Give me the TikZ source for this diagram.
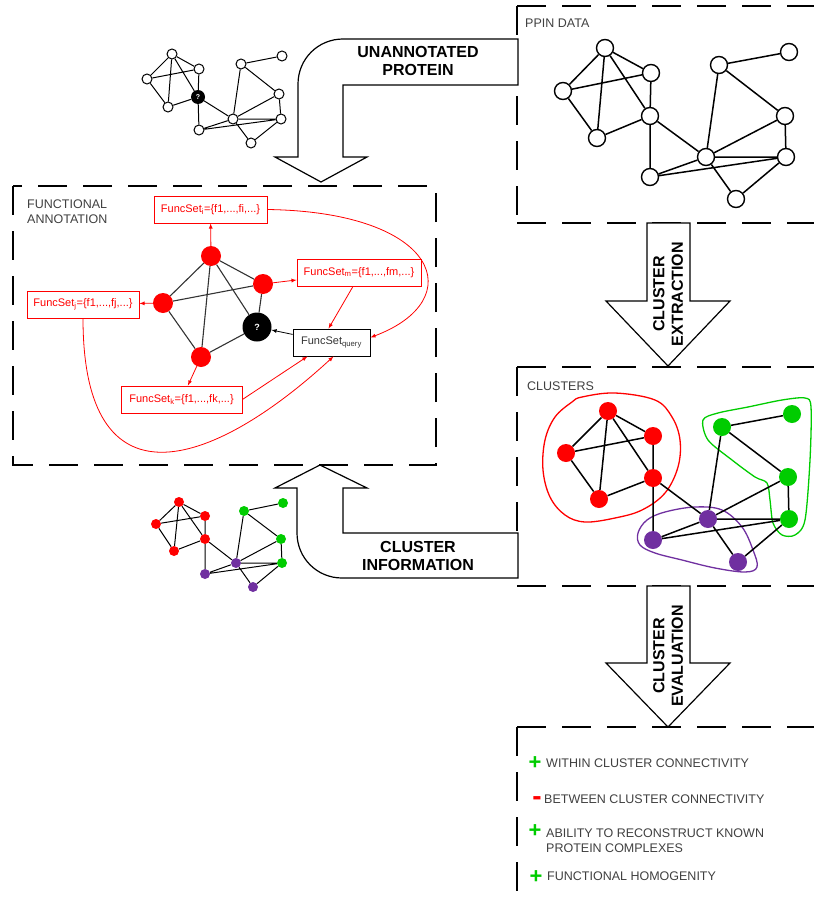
\documentclass[tikz,border=0pt]{standalone}
\usepackage{fontspec}
\setmainfont{Liberation Sans}
\usetikzlibrary{arrows,positioning}

\definecolor{ppired}{RGB}{255,0,0}
\definecolor{ppigreen}{RGB}{0,204,0}
\definecolor{ppipurple}{RGB}{112,48,160}
\definecolor{ppigray}{RGB}{64,64,64}

\tikzset{
  boxedge/.style={line width=1.3pt,dash pattern=on 29pt off 16pt},
  bigarrow/.style={draw,fill=white,line width=1.2pt,line join=miter},
  protein/.style={circle,draw,fill=white,line width=1.4pt,minimum size=17pt,inner sep=0pt},
  smallprotein/.style={circle,draw,fill=white,line width=1pt,minimum size=10pt,inner sep=0pt},
  queryprotein/.style={circle,fill=black,text=white,inner sep=0pt,minimum size=#1},
  member/.style={circle,fill=#1,minimum size=18pt,inner sep=0pt},
  smallmember/.style={circle,fill=#1,minimum size=10pt,inner sep=0pt},
  interaction/.style={line width=1.5pt},
  smallinteraction/.style={line width=1pt},
  annotedge/.style={line width=1.1pt,black!80},
  funcset/.style={draw=ppired,text=ppired,line width=0.8pt,minimum height=27pt,inner sep=0pt,font=\fontsize{11}{13}\selectfont},
  setarrow/.style={-latex,ppired,line width=0.8pt},
  hull/.style={line width=1.3pt},
  boxtitle/.style={text=ppigray,anchor=west,align=left,inner sep=0pt,font=\fontsize{12.5}{15}\selectfont},
  steptitle/.style={align=center,inner sep=0pt,font=\bfseries\fontsize{16}{18.5}\selectfont},
  plusmark/.style={text=ppigreen,inner sep=0pt,font=\bfseries\fontsize{22}{22}\selectfont},
  minusmark/.style={text=ppired,inner sep=0pt,font=\bfseries\fontsize{28}{28}\selectfont}
}

\begin{document}
\begin{tikzpicture}[x=1pt,y=-1pt]
\useasboundingbox (0,0) rectangle (814,899);

% frames
\draw[boxedge] (517,6) -- (814,6) (517,6) -- (517,223) (517,223) -- (814,223);
\draw[boxedge] (13,186) rectangle (436,465);
\draw[boxedge] (517,367) -- (814,367) (517,367) -- (517,586) (517,586) -- (814,586);
\draw[boxedge] (517,727) -- (814,727) (517,727) -- (517,899);

% process arrows
\draw[bigarrow] (518,85) -- (518,39) -- (343,39) .. controls (318,39) and (298,59) .. (298,84)
  -- (298,157) -- (275,157) -- (321,182) -- (367,157) -- (343,157) -- (343,85) -- cycle;
\draw[bigarrow] (647,223) -- (647,301) -- (606,301) -- (668,366) -- (730,301) -- (690,301) -- (690,223) -- cycle;
\draw[bigarrow] (647,586) -- (647,663) -- (606,663) -- (668,727) -- (730,663) -- (690,663) -- (690,586) -- cycle;
\draw[bigarrow] (518,533) -- (343,533) -- (343,488) -- (367,488) -- (320,465) -- (275,488) -- (297,488)
  -- (297,533) .. controls (297,558) and (317,578) .. (342,578) -- (518,578) -- cycle;

\node[steptitle] (unannotated) at (418,61) {UNANNOTATED\\PROTEIN};
\node[steptitle,rotate=90] (extraction) at (668,294) {CLUSTER\\EXTRACTION};
\node[steptitle] (information) at (418,556) {CLUSTER\\INFORMATION};
\node[steptitle,rotate=90] (evaluation) at (668,656) {CLUSTER\\EVALUATION};

\node[boxtitle] (ppintitle) at (525,23) {PPIN DATA};
\node[boxtitle] (fatitle) at (27,212) {FUNCTIONAL\\ANNOTATION};
\node[boxtitle] (clustertitle) at (527,386) {CLUSTERS};

% ppin data
\node[protein] (p1) at (605,48) {};
\node[protein] (p2) at (651,73) {};
\node[protein] (p3) at (563,91) {};
\node[protein] (p4) at (650,116) {};
\node[protein] (p5) at (597,138) {};
\node[protein] (p6) at (650,177) {};
\node[protein] (p7) at (719,65) {};
\node[protein] (p8) at (789,52) {};
\node[protein] (p9) at (785,116) {};
\node[protein] (p10) at (706,157) {};
\node[protein] (p11) at (786,157) {};
\node[protein] (p12) at (736,199) {};
\draw[interaction] (p1) -- (p3) (p1) -- (p2) (p1) -- (p5) (p1) -- (p4) (p3) -- (p2) (p3) -- (p5)
  (p5) -- (p4) (p2) -- (p4) (p4) -- (p6) (p4) -- (p10) (p10) -- (p7) (p7) -- (p8) (p7) -- (p9)
  (p9) -- (p10) (p9) -- (p11) (p10) -- (p11) (p6) -- (p10) (p6) -- (p11) (p10) -- (p12) (p12) -- (p11);

% unannotated protein
\node[smallprotein] (s1) at (172,54) {};
\node[smallprotein] (s2) at (199,69) {};
\node[smallprotein] (s3) at (147,79) {};
\node[queryprotein=14pt,font=\bfseries\fontsize{7}{7}\selectfont] (s4) at (198,97) {?};
\node[smallprotein] (s5) at (168,107) {};
\node[smallprotein] (s6) at (199,130) {};
\node[smallprotein] (s7) at (241,64) {};
\node[smallprotein] (s8) at (282,56) {};
\node[smallprotein] (s9) at (279,94) {};
\node[smallprotein] (s10) at (233,119) {};
\node[smallprotein] (s11) at (281,119) {};
\node[smallprotein] (s12) at (251,143) {};
\draw[smallinteraction] (s1) -- (s3) (s1) -- (s2) (s1) -- (s5) (s1) -- (s4) (s3) -- (s2) (s3) -- (s5)
  (s5) -- (s4) (s2) -- (s4) (s4) -- (s6) (s4) -- (s10) (s10) -- (s7) (s7) -- (s8) (s7) -- (s9)
  (s9) -- (s10) (s9) -- (s11) (s10) -- (s11) (s6) -- (s10) (s6) -- (s11) (s10) -- (s12) (s12) -- (s11);

% clusters
\draw[hull,ppired] plot[smooth cycle,tension=0.6] coordinates {(582,397) (615,393) (655,400) (672,417) (680,440)
  (678,467) (665,493) (642,510) (615,518) (585,522) (565,515) (550,497) (543,470) (545,440) (555,417) (572,402)};
\draw[hull,ppigreen] plot[smooth cycle,tension=0.5] coordinates {(703,420) (718,413) (748,407) (782,400) (805,398)
  (811,407) (810,460) (805,520) (795,535) (782,535) (773,523) (770,500) (767,483) (755,477) (732,460) (708,440)};
\draw[hull,ppipurple] plot[smooth cycle,tension=0.6] coordinates {(638,533) (647,520) (665,512) (695,507) (722,510)
  (742,527) (753,550) (757,567) (745,572) (715,568) (682,560) (655,553) (640,545)};
\node[member=ppired] (c1) at (608,411) {};
\node[member=ppired] (c2) at (653,436) {};
\node[member=ppired] (c3) at (566,453) {};
\node[member=ppired] (c4) at (653,478) {};
\node[member=ppired] (c5) at (599,499) {};
\node[member=ppipurple] (c6) at (653,540) {};
\node[member=ppigreen] (c7) at (722,427) {};
\node[member=ppigreen] (c8) at (792,414) {};
\node[member=ppigreen] (c9) at (788,477) {};
\node[member=ppipurple] (c10) at (708,519) {};
\node[member=ppigreen] (c11) at (789,519) {};
\node[member=ppipurple] (c12) at (738,562) {};
\draw[interaction] (c1) -- (c3) (c1) -- (c2) (c1) -- (c5) (c1) -- (c4) (c3) -- (c2) (c3) -- (c5)
  (c5) -- (c4) (c2) -- (c4) (c4) -- (c6) (c4) -- (c10) (c10) -- (c7) (c7) -- (c8) (c7) -- (c9)
  (c9) -- (c10) (c9) -- (c11) (c10) -- (c11) (c6) -- (c10) (c6) -- (c11) (c10) -- (c12) (c12) -- (c11);

% cluster information
\node[smallmember=ppired] (n1) at (179,502) {};
\node[smallmember=ppired] (n2) at (205,516) {};
\node[smallmember=ppired] (n3) at (156,524) {};
\node[smallmember=ppired] (n4) at (205,539) {};
\node[smallmember=ppired] (n5) at (174,551) {};
\node[smallmember=ppipurple] (n6) at (205,574) {};
\node[smallmember=ppigreen] (n7) at (244,511) {};
\node[smallmember=ppigreen] (n8) at (283,503) {};
\node[smallmember=ppigreen] (n9) at (281,539) {};
\node[smallmember=ppipurple] (n10) at (236,563) {};
\node[smallmember=ppigreen] (n11) at (282,563) {};
\node[smallmember=ppipurple] (n12) at (253,587) {};
\draw[smallinteraction] (n1) -- (n3) (n1) -- (n2) (n1) -- (n5) (n1) -- (n4) (n3) -- (n2) (n3) -- (n5)
  (n5) -- (n4) (n2) -- (n4) (n4) -- (n6) (n4) -- (n10) (n10) -- (n7) (n7) -- (n8) (n7) -- (n9)
  (n9) -- (n10) (n9) -- (n11) (n10) -- (n11) (n6) -- (n10) (n6) -- (n11) (n10) -- (n12) (n12) -- (n11);

% functional annotation
\node[member=ppired,minimum size=20pt] (fi) at (211,256) {};
\node[member=ppired,minimum size=20pt] (fm) at (263,284) {};
\node[member=ppired,minimum size=20pt] (fj) at (163,303) {};
\node[member=ppired,minimum size=20pt] (fk) at (201,357) {};
\node[queryprotein=29pt,font=\bfseries\fontsize{9}{9}\selectfont] (fq) at (257,327) {?};
\draw[annotedge] (fi) -- (fj) (fi) -- (fm) (fi) -- (fk) (fi) -- (fq) (fj) -- (fm) (fj) -- (fk)
  (fm) -- (fq) (fk) -- (fq);

\node[funcset,minimum width=113pt] (seti) at (210.5,209.5) {FuncSet\textsubscript{i}=\{f1,...,fi,...\}};
\node[funcset,minimum width=112pt] (setj) at (83,304.5) {FuncSet\textsubscript{j}=\{f1,...,fj,...\}};
\node[funcset,minimum width=121pt] (setk) at (181.5,399.5) {FuncSet\textsubscript{k}=\{f1,...,fk,...\}};
\node[funcset,minimum width=124pt] (setm) at (359,272.5) {FuncSet\textsubscript{m}=\{f1,...,fm,...\}};
\node[funcset,draw=black,text=black!80,minimum width=77pt] (setq) at (331.5,342.5) {FuncSet\textsubscript{query}};

\draw[setarrow] (fi) -- (seti);
\draw[setarrow] (fj) -- (setj);
\draw[setarrow] (fk) -- (setk);
\draw[setarrow] (fm) -- (setm);
\draw[setarrow] ([xshift=-6pt]setm.south) -- ([xshift=-3pt]setq.north);
\draw[setarrow] (setk.east) -- ([xshift=-24pt]setq.south);
\draw[setarrow] (setj.south) .. controls (83,510) and (210,470) .. ([xshift=2pt]setq.south);
\draw[setarrow] (seti.east) .. controls (440,212) and (470,300) .. ([yshift=5pt]setq.east);
\draw[-latex,line width=0.8pt] (setq) -- (fq);

% evaluation
\node[plusmark] (within) at (535,763) {+};
\node[boxtitle] (withintext) at (546,763) {WITHIN CLUSTER CONNECTIVITY};
\node[minusmark] (between) at (537,801.5) {-};
\node[boxtitle] (betweentext) at (544,799) {BETWEEN CLUSTER CONNECTIVITY};
\node[plusmark] (ability) at (535,831) {+};
\node[boxtitle] (abilitytext) at (546,840.5) {ABILITY TO RECONSTRUCT KNOWN\\PROTEIN COMPLEXES};
\node[plusmark] (homogenity) at (536,877) {+};
\node[boxtitle] (homogenitytext) at (547,876) {FUNCTIONAL HOMOGENITY};

\end{tikzpicture}
\end{document}
